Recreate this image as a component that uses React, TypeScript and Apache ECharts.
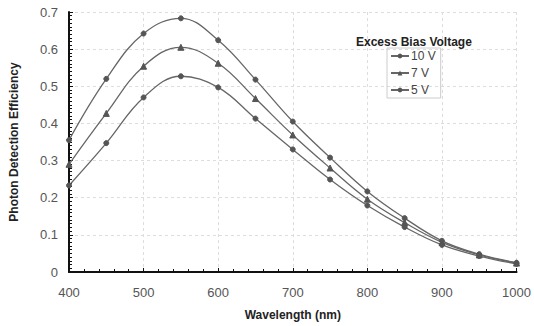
import React, { useEffect, useRef } from "react";
import * as echarts from "echarts";

const wavelengths = [400, 450, 500, 550, 600, 650, 700, 750, 800, 850, 900, 950, 1000];
const v10 = [0.355, 0.52, 0.642, 0.683, 0.624, 0.518, 0.405, 0.308, 0.217, 0.145, 0.084, 0.048, 0.025];
const v7 = [0.29, 0.427, 0.554, 0.605, 0.562, 0.467, 0.369, 0.28, 0.196, 0.133, 0.08, 0.046, 0.024];
const v5 = [0.233, 0.347, 0.47, 0.527, 0.497, 0.413, 0.33, 0.249, 0.179, 0.121, 0.073, 0.043, 0.022];
const seriesNames = ["10 V", "7 V", "5 V"];
const markers = ["circle", "triangle", "circle"];

const FONT = "Liberation Sans, Arial, sans-serif";

export default function App() {
  const ref = useRef<HTMLDivElement>(null);
  useEffect(() => {
    document.body.style.margin = "0";
    const chart = echarts.init(ref.current!, null, { renderer: "svg" });
    const all = [v10, v7, v5];
    chart.setOption({
      animation: false,
      backgroundColor: "#fff",
      textStyle: { fontFamily: FONT },
      grid: { left: 66, right: 14, top: 12, bottom: 49 },
      title: {
        text: "Excess Bias Voltage",
        left: 351,
        top: 31,
        textStyle: { fontSize: 12, fontWeight: "bold", color: "#222", fontFamily: FONT },
      },
      legend: {
        data: seriesNames,
        orient: "vertical",
        left: 387,
        top: 48,
        itemWidth: 18,
        itemHeight: 6,
        itemGap: 5,
        padding: [2, 5, 2, 3],
        borderColor: "#ccc",
        borderWidth: 1,
        textStyle: { fontSize: 12, color: "#444", fontFamily: FONT, padding: [0, 0, 0, -3] },
      },
      xAxis: {
        type: "value",
        min: 400,
        max: 1000,
        interval: 100,
        name: "Wavelength (nm)",
        nameLocation: "middle",
        nameGap: 37,
        nameTextStyle: { fontSize: 12, fontWeight: "bold", color: "#222", fontFamily: FONT },
        axisLine: { lineStyle: { color: "#111", width: 2 } },
        axisTick: { inside: true, length: 4, lineStyle: { color: "#111" } },
        minorTick: { show: true, splitNumber: 5, length: 3, lineStyle: { color: "#111" } },
        axisLabel: { fontSize: 13, color: "#555", margin: 14, fontFamily: FONT, formatter: (v: number) => String(v) },
        splitLine: { show: true, lineStyle: { color: "#ddd", type: [3, 3] } },
      },
      yAxis: {
        type: "value",
        min: 0,
        max: 0.7,
        interval: 0.1,
        name: "Photon Detection Efficiency",
        nameLocation: "middle",
        nameGap: 49,
        nameTextStyle: { fontSize: 12, fontWeight: "bold", color: "#222", fontFamily: FONT },
        axisLine: { show: true, lineStyle: { color: "#111", width: 2 } },
        axisTick: { show: true, inside: true, length: 4, lineStyle: { color: "#111" } },
        minorTick: { show: true, splitNumber: 10, length: 3, lineStyle: { color: "#111" } },
        axisLabel: { fontSize: 13, color: "#555", margin: 11, fontFamily: FONT },
        splitLine: { show: true, lineStyle: { color: "#ddd", type: [3, 3] } },
      },
      series: all.map((vals, i) => ({
        name: seriesNames[i],
        type: "line",
        smooth: 0.4,
        symbol: markers[i],
        symbolSize: i === 1 ? 6 : 5,
        data: wavelengths.map((w, j) => [w, vals[j]]),
        lineStyle: { color: "#666", width: 1.3 },
        itemStyle: { color: "#555", borderColor: "#555" },
      })),
    });
    return () => chart.dispose();
  }, []);
  return <div ref={ref} style={{ width: 534, height: 326 }} />;
}
